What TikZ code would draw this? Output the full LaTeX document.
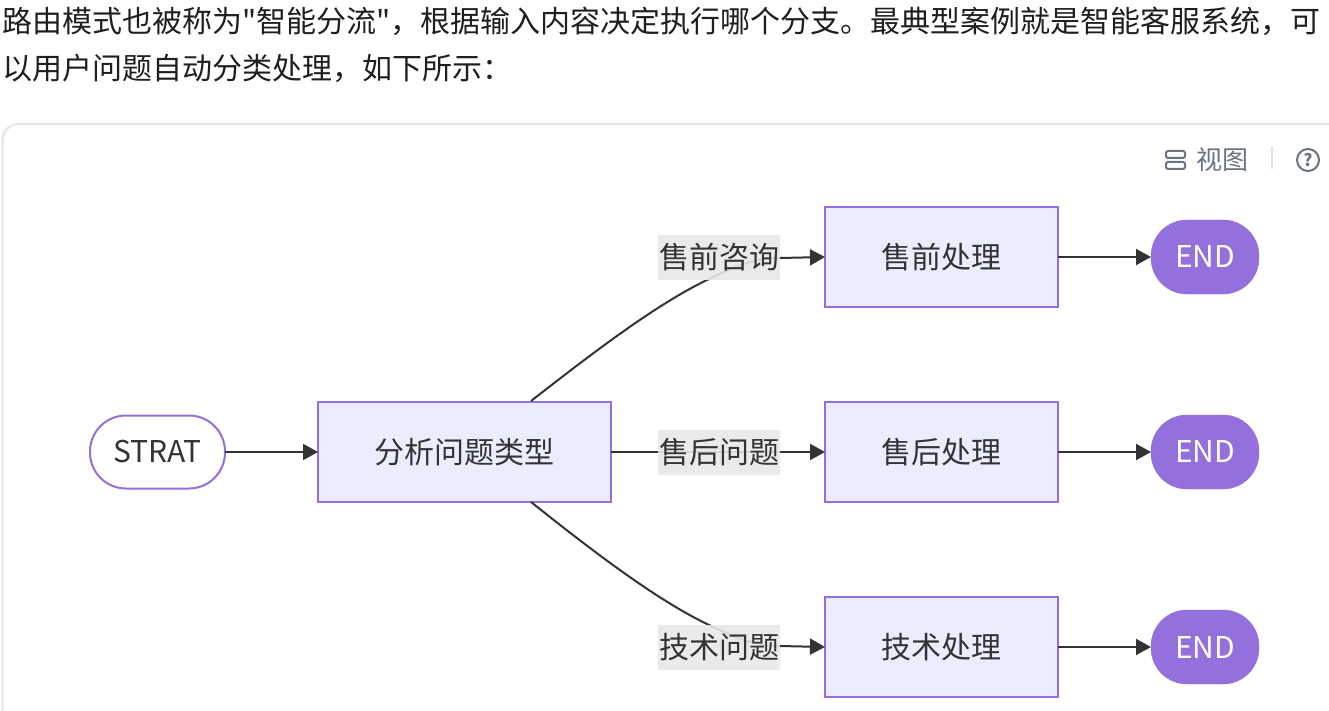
\documentclass[tikz,border=0pt]{standalone}
\usepackage{fontspec}
\usepackage{xcolor}
\setmainfont{Noto Sans CJK SC}
\newfontfamily\plainfont{Noto Sans CJK SC}
\definecolor{flowFill}{HTML}{ECECFF}
\definecolor{flowBorder}{HTML}{9370DB}
\definecolor{flowLine}{HTML}{333333}
\definecolor{flowLabel}{HTML}{E8E8E8}
\definecolor{cardBorder}{HTML}{E5E5E5}
\definecolor{toolGray}{HTML}{6B7280}
\definecolor{bodyText}{HTML}{1F1F1F}
\usetikzlibrary{arrows.meta}
\tikzset{
  bodyline/.style={anchor=base west, inner sep=0pt, text=bodyText, font=\fontsize{30}{36}\selectfont\plainfont},
  flowbox/.style={rectangle, draw=flowBorder, fill=flowFill, line width=2pt, outer sep=0pt, text=flowLine, minimum height=100pt, inner sep=0pt, font=\fontsize{30}{36}\selectfont},
  startcap/.style={rectangle, rounded corners=36pt, draw=flowBorder, fill=white, line width=2pt, outer sep=0pt, text=flowLine, minimum width=135pt, minimum height=73pt, inner sep=0pt, font=\fontsize{30}{36}\selectfont},
  endcap/.style={rectangle, rounded corners=36pt, draw=flowBorder, fill=flowBorder, outer sep=0pt, text=white, minimum width=108pt, minimum height=74pt, inner sep=0pt, font=\fontsize{30}{36}\selectfont},
  edgelabel/.style={rectangle, fill=flowLabel, fill opacity=0.9, text opacity=1, text=flowLine, minimum width=122pt, minimum height=45pt, inner sep=0pt, font=\fontsize{30}{36}\selectfont},
  flow/.style={draw=flowLine, line width=2pt, -{Triangle[length=15pt,width=16pt]}},
  toolicon/.style={draw=toolGray, line width=2pt}
}

\begin{document}
\begin{tikzpicture}[x=1pt, y=-1pt]
  \clip (0,0) rectangle (1329,711);
  \fill[white] (0,0) rectangle (1329,711);
  \node[bodyline] (line1) at (2,33) {路由模式也被称为"智能分流"，根据输入内容决定执行哪个分支。最典型案例就是智能客服系统，可};
  \node[bodyline] (line2) at (2,79.5) {以用户问题自动分类处理，如下所示：};
  \draw[cardBorder, line width=2pt, rounded corners=16pt] (2.5,730) -- (2.5,124) -- (1345,124) -- (1345,730);
  \draw[toolicon, rounded corners=2pt] (1166,151) rectangle (1185,158);
  \draw[toolicon, rounded corners=2pt] (1166,162) rectangle (1185,169);
  \node[inner sep=0pt, text=toolGray, font=\fontsize{26}{30}\selectfont] (view) at (1222.5,160) {视图};
  \draw[cardBorder, line width=2pt] (1272,146) -- (1272,169);
  \node[circle, toolicon, minimum size=22pt, inner sep=0pt, text=toolGray, font=\fontsize{17}{20}\selectfont\bfseries] (help) at (1308,160) {?};
  \node[startcap] (start) at (157.5,452) {STRAT};
  \node[flowbox, minimum width=293pt] (type) at (464.5,452) {分析问题类型};
  \node[flowbox, minimum width=233pt] (pre) at (941.5,257) {售前处理};
  \node[flowbox, minimum width=233pt] (after) at (941.5,452) {售后处理};
  \node[flowbox, minimum width=233pt] (tech) at (941.5,647) {技术处理};
  \node[endcap] (end1) at (1205,257) {END};
  \node[endcap] (end2) at (1205,452) {END};
  \node[endcap] (end3) at (1205,647) {END};
  \coordinate (up) at (531,401);
  \coordinate (down) at (531,502);
  \draw[flow] (start.east) -- (type.west);
  \draw[flow] (up) .. controls (590,355) and (655,305) .. (707,280) .. controls (735,266) and (755,258) .. (780,258) -- (pre.west) node[edgelabel] (ask) at (719,257.5) {售前咨询};
  \draw[flow] (type.east) -- (after.west) node[edgelabel] (issue) at (719,452) {售后问题};
  \draw[flow] (down) .. controls (590,549) and (655,599) .. (707,624) .. controls (735,638) and (755,646) .. (780,646) -- (tech.west) node[edgelabel] (fault) at (719,647) {技术问题};
  \draw[flow] (pre.east) -- (end1.west);
  \draw[flow] (after.east) -- (end2.west);
  \draw[flow] (tech.east) -- (end3.west);
\end{tikzpicture}
\end{document}
